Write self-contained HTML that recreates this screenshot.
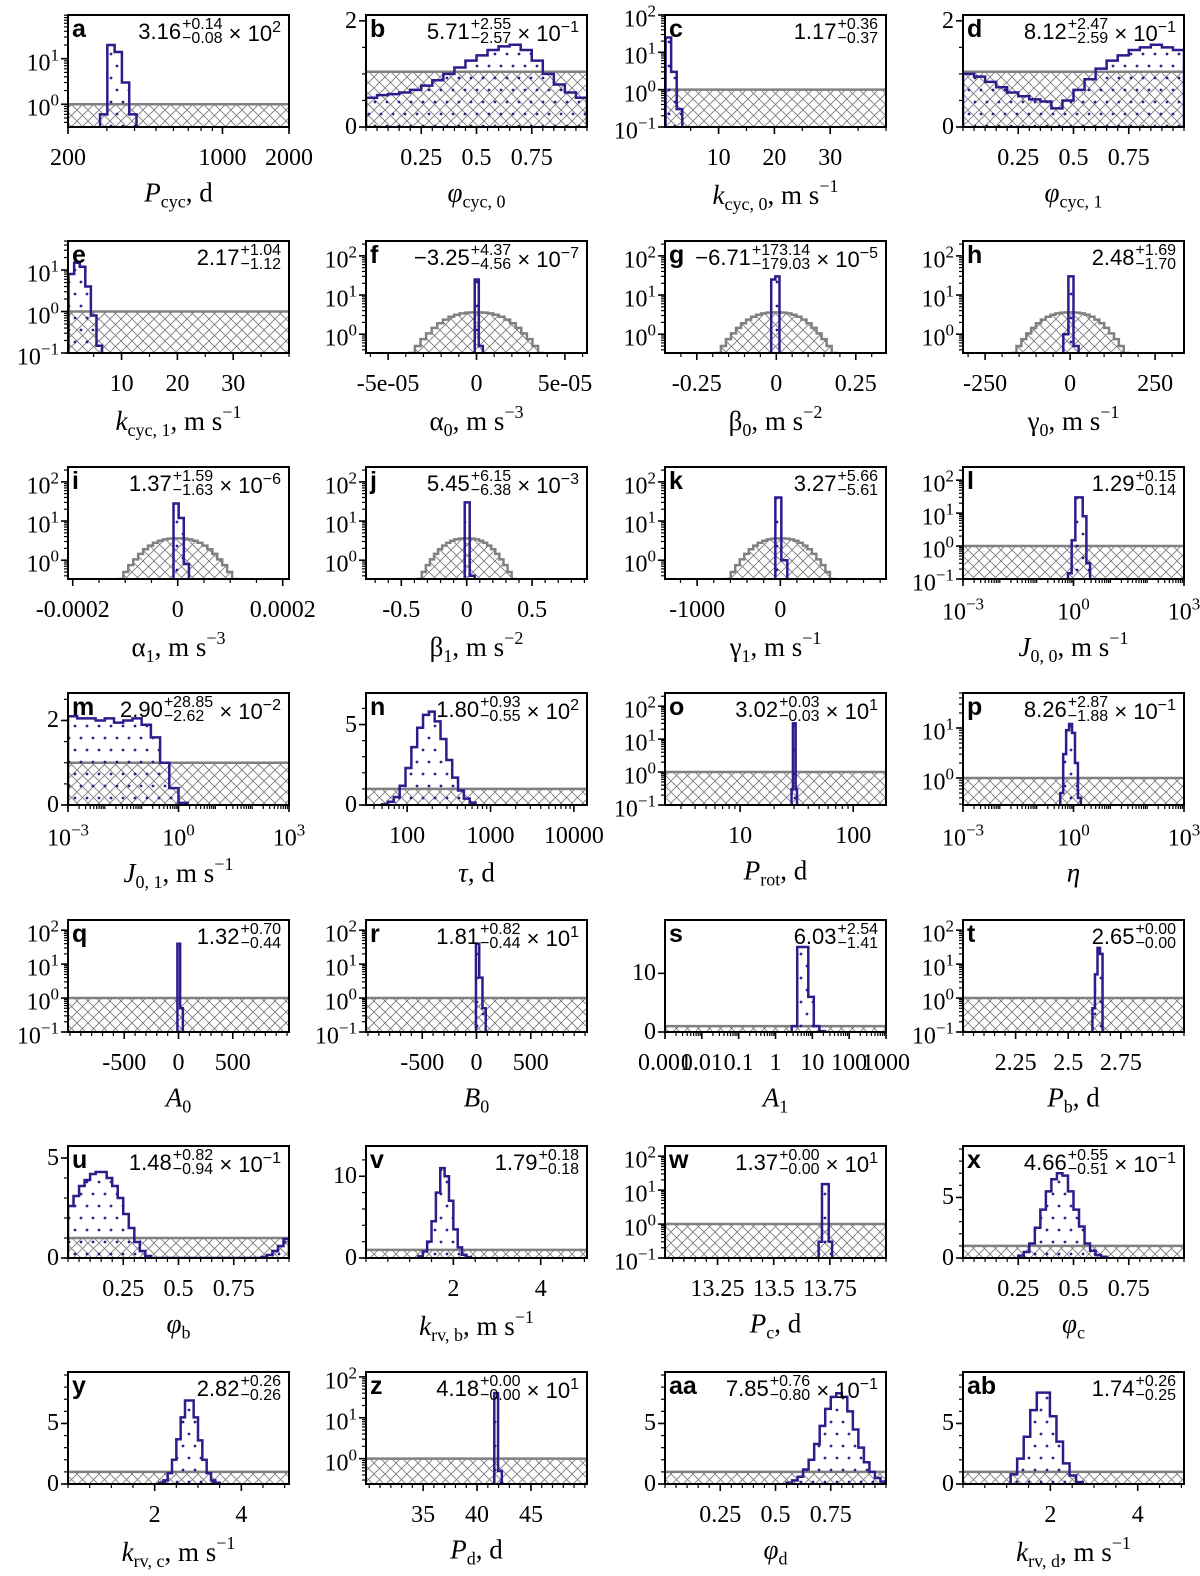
<!DOCTYPE html>
<html><head><meta charset="utf-8">
<style>
html,body{margin:0;padding:0;background:#fff;}
#wrap{position:relative;width:1200px;height:1576px;overflow:hidden;background:#fff;}
svg{position:absolute;left:0;top:0;}
.t{position:absolute;white-space:nowrap;font-family:"Liberation Serif",serif;color:#000;line-height:1;}
.tk{font-size:24px;}
.al{font-size:27px;}
.al sub{font-size:18px;vertical-align:-6px;}
.al sup{font-size:18px;vertical-align:12px;}
.tk sup{font-size:17px;vertical-align:10px;}
.let{font-family:"Liberation Sans",sans-serif;font-weight:bold;font-size:25px;}
.ann{font-family:"Liberation Sans",sans-serif;font-size:22px;display:flex;align-items:center;}
.ann .st{display:inline-flex;flex-direction:column;font-size:16px;line-height:14px;margin-left:1px;}
.ann .ex sup{font-size:16px;vertical-align:9px;}
</style></head>
<body>
<div id="wrap">
<svg id="fig" width="1200" height="1576">
<defs>
<pattern id="xh" patternUnits="userSpaceOnUse" width="11" height="11">
<path d="M0,0L11,11M0,11L11,0" stroke="#777" stroke-width="0.8"/>
</pattern>
<pattern id="dots" patternUnits="userSpaceOnUse" width="12" height="24">
<circle cx="3" cy="6" r="1.4" fill="#2a1d8c"/><circle cx="9" cy="18" r="1.4" fill="#2a1d8c"/>
</pattern>
</defs>
</svg>
</div>
<script>
// ---- data arrays (posterior histogram counts) ----
const gaussPrior=[0.33,0.5,0.75,1.05,1.45,1.9,2.35,2.8,3.15,3.4,3.55,3.6,3.6,3.55,3.4,3.15,2.8,2.35,1.9,1.45,1.05,0.75,0.5,0.33];
const postA=[0.6,20,14,3,0.6];
const postB=[0.55,0.6,0.62,0.65,0.7,0.78,0.88,1.0,1.12,1.25,1.35,1.45,1.52,1.55,1.45,1.25,1.0,0.8,0.65,0.55];
const postC=[25,3,0.3];
const postD=[1.0,0.95,0.85,0.75,0.65,0.58,0.52,0.48,0.35,0.5,0.7,0.9,1.1,1.25,1.35,1.45,1.5,1.55,1.5,1.45];
const postE=[8,15,12,4,0.8,0.15];
const postF=[25,0.5];
const postG=[25,30];
const postH=[1,30,0.5];
const postI=[28,12,0.8];
const postJ=[30,0.4];
const postK=[40,1];
const postL=[0.15,1.5,30,30,8,0.3];
const postM=[2.1,2.05,2.05,2.0,2.05,1.95,2.0,2.05,1.9,1.6,1.0,0.4,0.05];
const postN=[0.05,0.2,0.5,1.2,2.3,3.6,4.8,5.6,5.8,5.2,4.1,2.8,1.7,0.9,0.4,0.15];
const postO=[0.3,30,30,0.3];
const postP=[0.5,3,9,12,8,2,0.4];
const postQ=[40,0.5];
const postR=[40,4,0.5];
const postS=[1,14.5,14.5,6,1,0.15];
const postT=[0.5,5,30,20];
const postU=[2.6,3.1,3.6,3.9,4.2,4.3,4.3,4.0,3.6,3.0,2.2,1.5,0.8,0.35,0.1,0,0,0,0,0,0,0,0,0,0,0,0,0,0,0,0,0,0,0,0,0.05,0.15,0.35,0.6,0.95];
const postV=[0.2,0.8,2,4.5,8,11,10,7,3.5,1.3,0.4,0.1];
const postW=[0.3,15,15,0.3];
const postX=[0.2,0.5,1.2,2.5,4,5.5,6.5,7,6.8,5.5,4,2.6,1.2,0.6,0.25,0.1];
const postY=[0.1,0.3,0.9,2,3.7,5.5,6.9,6.9,5.5,3.6,2,0.9,0.3,0.1];
const postZ=[40,0.5];
const postAA=[0.1,0.3,0.6,1.2,2,3.3,4.8,6.2,7.2,7.5,7.2,6,4.5,3,1.8,1,0.5,0.2];
const postAB=[0.8,2.1,3.9,6.1,7.55,7.55,5.6,3.5,1.7,0.7,0.15];

const L10=Math.log10;
const phiT=[[0.25,'0.25'],[0.5,'0.5'],[0.75,'0.75']];
const logY=(a,b)=>{const r=[];for(let n=a;n<=b;n++)r.push([n,'10<sup>'+(n<0?'−'+(-n):n)+'</sup>']);return r;};
const flat={type:'flat',v:1};
const panels=[
{id:'a',c:0,r:0,xl:1,xd:[L10(200),L10(2000)],xt:[[L10(200),'200'],[L10(1000),'1000'],[L10(2000),'2000']],yl:1,yd:[-0.5,1.96],yt:logY(0,1),pr:flat,po:{s:2.446,w:0.033,c:postA},an:['3.16','+0.14','−0.08','2'],lab:'<i>P</i><sub>cyc</sub>, d'},
{id:'b',c:1,r:0,xd:[0,1],xt:phiT,xm:0.05,yd:[0,2.11],yt:[[0,'0'],[2,'2']],ym:0.5,pr:{type:'flat',v:1.04},po:{s:0,w:0.05,c:postB},an:['5.71','+2.55','−2.57','−1'],lab:'<i>φ</i><sub>cyc, 0</sub>'},
{id:'c',c:2,r:0,xd:[0.4,40],xt:[[10,'10'],[20,'20'],[30,'30']],xm:5,yl:1,yd:[-1,2],yt:logY(-1,2),pr:flat,po:{s:0.5,w:1,c:postC},an:['1.17','+0.36','−0.37',null],lab:'<i>k</i><sub>cyc, 0</sub>, m s<sup>−1</sup>'},
{id:'d',c:3,r:0,xd:[0,1],xt:phiT,xm:0.05,yd:[0,2.11],yt:[[0,'0'],[2,'2']],ym:0.5,pr:{type:'flat',v:1.04},po:{s:0,w:0.05,c:postD},an:['8.12','+2.47','−2.59','−1'],lab:'<i>φ</i><sub>cyc, 1</sub>'},
{id:'e',c:0,r:1,xd:[0.4,40],xt:[[10,'10'],[20,'20'],[30,'30']],xm:5,yl:1,yd:[-1,1.7],yt:logY(-1,1),pr:flat,po:{s:0.5,w:1,c:postE},an:['2.17','+1.04','−1.12',null],lab:'<i>k</i><sub>cyc, 1</sub>, m s<sup>−1</sup>'},
{id:'f',c:1,r:1,xd:[-6.25e-5,6.25e-5],xt:[[-5e-5,'-5e-05'],[0,'0'],[5e-5,'5e-05']],xm:1e-5,yl:1,yd:[-0.48,2.38],yt:logY(0,2),pr:{type:'gauss',ext:3.8e-5},po:{s:-1e-6,w:2.3e-6,c:postF},an:['−3.25','+4.37','−4.56','−7'],lab:'α<sub>0</sub>, m s<sup>−3</sup>'},
{id:'g',c:2,r:1,xd:[-0.35,0.345],xt:[[-0.25,'-0.25'],[0,'0'],[0.25,'0.25']],xm:0.05,yl:1,yd:[-0.48,2.38],yt:logY(0,2),pr:{type:'gauss',ext:0.19},po:{s:-0.016,w:0.013,c:postG},an:['−6.71','+173.14','−179.03','−5'],lab:'β<sub>0</sub>, m s<sup>−2</sup>'},
{id:'h',c:3,r:1,xd:[-315,335],xt:[[-250,'-250'],[0,'0'],[250,'250']],xm:50,yl:1,yd:[-0.48,2.38],yt:logY(0,2),pr:{type:'gauss',ext:172},po:{s:-20,w:15,c:postH},an:['2.48','+1.69','−1.70',null],lab:'γ<sub>0</sub>, m s<sup>−1</sup>'},
{id:'i',c:0,r:2,xd:[-2.09e-4,2.12e-4],xt:[[-2e-4,'-0.0002'],[0,'0'],[2e-4,'0.0002']],xm:5e-5,yl:1,yd:[-0.48,2.38],yt:logY(0,2),pr:{type:'gauss',ext:1.13e-4},po:{s:-8e-6,w:9.8e-6,c:postI},an:['1.37','+1.59','−1.63','−6'],lab:'α<sub>1</sub>, m s<sup>−3</sup>'},
{id:'j',c:1,r:2,xd:[-0.77,0.92],xt:[[-0.5,'-0.5'],[0,'0'],[0.5,'0.5']],xm:0.1,yl:1,yd:[-0.48,2.38],yt:logY(0,2),pr:{type:'gauss',ext:0.375},po:{s:-0.015,w:0.038,c:postJ},an:['5.45','+6.15','−6.38','−3'],lab:'β<sub>1</sub>, m s<sup>−2</sup>'},
{id:'k',c:2,r:2,xd:[-1386,1270],xt:[[-1000,'-1000'],[0,'0']],xm:200,yl:1,yd:[-0.48,2.38],yt:logY(0,2),pr:{type:'gauss',ext:650},po:{s:-60,w:72,c:postK},an:['3.27','+5.66','−5.61',null],lab:'γ<sub>1</sub>, m s<sup>−1</sup>'},
{id:'l',c:3,r:2,xl:1,xd:[-3,3],xt:logY(-3,3).filter(t=>t[0]%3==0),yl:1,yd:[-1,2.4],yt:logY(-1,2),pr:flat,po:{s:-0.15,w:0.1,c:postL},an:['1.29','+0.15','−0.14',null],lab:'<i>J</i><sub>0, 0</sub>, m s<sup>−1</sup>'},
{id:'m',c:0,r:3,xl:1,xd:[-3,3],xt:logY(-3,3).filter(t=>t[0]%3==0),yd:[0,2.65],yt:[[0,'0'],[2,'2']],ym:0.5,pr:flat,po:{s:-3,w:0.25,c:postM},an:['2.90','+28.85','−2.62','−2'],lab:'<i>J</i><sub>0, 1</sub>, m s<sup>−1</sup>'},
{id:'n',c:1,r:3,xl:1,xd:[1.506,4.157],xt:[[2,'100'],[3,'1000'],[4,'10000']],yd:[0,6.96],yt:[[0,'0'],[5,'5']],ym:1,pr:flat,po:{s:1.7,w:0.07,c:postN},an:['1.80','+0.93','−0.55','2'],lab:'<i>τ</i>, d'},
{id:'o',c:2,r:3,xl:1,xd:[0.336,2.29],xt:[[1,'10'],[2,'100']],yl:1,yd:[-1,2.4],yt:logY(-1,2),pr:flat,po:{s:1.455,w:0.012,c:postO},an:['3.02','+0.03','−0.03','1'],lab:'<i>P</i><sub>rot</sub>, d'},
{id:'p',c:3,r:3,xl:1,xd:[-3,3],xt:logY(-3,3).filter(t=>t[0]%3==0),yl:1,yd:[-0.54,1.7],yt:logY(0,1),pr:flat,po:{s:-0.36,w:0.08,c:postP},an:['8.26','+2.87','−1.88','−1'],lab:'<i>η</i>'},
{id:'q',c:0,r:4,xd:[-1018,1018],xt:[[-500,'-500'],[0,'0'],[500,'500']],xm:100,yl:1,yd:[-1,2.3],yt:logY(-1,2),pr:flat,po:{s:-10,w:25,c:postQ},an:['1.32','+0.70','−0.44',null],lab:'<i>A</i><sub>0</sub>'},
{id:'r',c:1,r:4,xd:[-1018,1018],xt:[[-500,'-500'],[0,'0'],[500,'500']],xm:100,yl:1,yd:[-1,2.3],yt:logY(-1,2),pr:flat,po:{s:-5,w:30,c:postR},an:['1.81','+0.82','−0.44','1'],lab:'<i>B</i><sub>0</sub>'},
{id:'s',c:2,r:4,xl:1,xd:[-3,3],xt:[[-3,'0.001'],[-2,'0.01'],[-1,'0.1'],[0,'1'],[1,'10'],[2,'100'],[3,'1000']],yd:[0,19.1],yt:[[0,'0'],[10,'10']],pr:flat,po:{s:0.44,w:0.15,c:postS},an:['6.03','+2.54','−1.41',null],lab:'<i>A</i><sub>1</sub>'},
{id:'t',c:3,r:4,xd:[2.0,3.05],xt:[[2.25,'2.25'],[2.5,'2.5'],[2.75,'2.75']],xm:0.05,yl:1,yd:[-1,2.3],yt:logY(-1,2),pr:flat,po:{s:2.615,w:0.012,c:postT},an:['2.65','+0.00','−0.00',null],lab:'<i>P</i><sub>b</sub>, d'},
{id:'u',c:0,r:5,xd:[0,1],xt:phiT,xm:0.05,yd:[0,5.6],yt:[[0,'0'],[5,'5']],ym:1,pr:flat,po:{s:0,w:0.025,c:postU},an:['1.48','+0.82','−0.94','−1'],lab:'<i>φ</i><sub>b</sub>'},
{id:'v',c:1,r:5,xd:[0,5.06],xt:[[2,'2'],[4,'4']],xm:0.5,yd:[0,13.7],yt:[[0,'0'],[10,'10']],ym:2,pr:flat,po:{s:1.2,w:0.1,c:postV},an:['1.79','+0.18','−0.18',null],lab:'<i>k</i><sub>rv, b</sub>, m s<sup>−1</sup>'},
{id:'w',c:2,r:5,xd:[13.016,14.0],xt:[[13.25,'13.25'],[13.5,'13.5'],[13.75,'13.75']],xm:0.05,yl:1,yd:[-1,2.3],yt:logY(-1,2),pr:flat,po:{s:13.7,w:0.015,c:postW},an:['1.37','+0.00','−0.00','1'],lab:'<i>P</i><sub>c</sub>, d'},
{id:'x',c:3,r:5,xd:[0,1],xt:phiT,xm:0.05,yd:[0,9.25],yt:[[0,'0'],[5,'5']],ym:1,pr:flat,po:{s:0.25,w:0.025,c:postX},an:['4.66','+0.55','−0.51','−1'],lab:'<i>φ</i><sub>c</sub>'},
{id:'y',c:0,r:6,xd:[0,5.1],xt:[[2,'2'],[4,'4']],xm:0.5,yd:[0,9.25],yt:[[0,'0'],[5,'5']],ym:1,pr:flat,po:{s:2.1,w:0.1,c:postY},an:['2.82','+0.26','−0.26',null],lab:'<i>k</i><sub>rv, c</sub>, m s<sup>−1</sup>'},
{id:'z',c:1,r:6,xd:[29.7,50.2],xt:[[35,'35'],[40,'40'],[45,'45']],xm:1,yl:1,yd:[-0.62,2.12],yt:logY(0,2),pr:flat,po:{s:41.6,w:0.35,c:postZ},an:['4.18','+0.00','−0.00','1'],lab:'<i>P</i><sub>d</sub>, d'},
{id:'aa',c:2,r:6,xd:[0,1],xt:phiT,xm:0.05,yd:[0,9.25],yt:[[0,'0'],[5,'5']],ym:1,pr:flat,po:{s:0.55,w:0.025,c:postAA},an:['7.85','+0.76','−0.80','−1'],lab:'<i>φ</i><sub>d</sub>'},
{id:'ab',c:3,r:6,xd:[0,5.06],xt:[[2,'2'],[4,'4']],xm:0.5,yd:[0,9.25],yt:[[0,'0'],[5,'5']],ym:1,pr:flat,po:{s:1.09,w:0.15,c:postAB},an:['1.74','+0.26','−0.25',null],lab:'<i>k</i><sub>rv, d</sub>, m s<sup>−1</sup>'}
];

const LEFTS=[68,366,665,963], TOPS=[15,241,467,693,920,1146,1372], W=221, H=112;
const NS='http://www.w3.org/2000/svg';
const svg=document.getElementById('fig');
const wrap=document.getElementById('wrap');
function mk(tag,attrs,parent){const e=document.createElementNS(NS,tag);for(const k in attrs)e.setAttribute(k,attrs[k]);(parent||svg).appendChild(e);return e;}
function txt(cls,html,x,y,tx){const d=document.createElement('div');d.className='t '+cls;d.innerHTML=html;d.style.left=x+'px';d.style.top=y+'px';d.style.transform=tx;wrap.appendChild(d);return d;}

panels.forEach(p=>{
  const L=LEFTS[p.c],T=TOPS[p.r],R=L+W,B=T+H;
  const xs=v=>L+(v-p.xd[0])/(p.xd[1]-p.xd[0])*W;
  const ys=v=>{let t;if(p.yl){if(v<=0)return B+5;t=L10(v);}else t=v;let y=B-(t-p.yd[0])/(p.yd[1]-p.yd[0])*H;return Math.max(T-5,Math.min(B+5,y));};
  const g=mk('g',{});
  
  
  const cp=mk('clipPath',{id:'cp'+p.id},g);
  mk('rect',{x:L,y:T,width:W,height:H},cp);
  const inner=mk('g',{'clip-path':'url(#cp'+p.id+')'},g);
  let pd;
  if(p.pr.type==='flat'){const y=ys(p.pr.v);pd=`M${L-3},${B+5}L${L-3},${y}L${R+3},${y}L${R+3},${B+5}Z`;}
  else{const n=gaussPrior.length,e=p.pr.ext,w=2*e/n;pd=`M${xs(-e)},${B+5}`;gaussPrior.forEach((v,i)=>{const y=ys(v);pd+=`L${xs(-e+i*w)},${y}L${xs(-e+(i+1)*w)},${y}`;});pd+=`L${xs(e)},${B+5}Z`;}
  const pr=mk('path',{d:pd,fill:'url(#xh)',stroke:'#808080','stroke-width':2.5},inner);
  
  
  const po=p.po;let d=`M${xs(po.s)},${B+5}`;
  po.c.forEach((v,i)=>{const y=ys(v);d+=`L${xs(po.s+i*po.w)},${y}L${xs(po.s+(i+1)*po.w)},${y}`;});
  d+=`L${xs(po.s+po.c.length*po.w)},${B+5}`;
  const pp=mk('path',{d:d,fill:'url(#dots)',stroke:'#2a1d8c','stroke-width':2.5,'stroke-linejoin':'miter'},inner);
  
  
  const fr=mk('rect',{x:L,y:T,width:W,height:H,fill:'none',stroke:'#000','stroke-width':2},g);
  
  
  const xmin=[];
  if(p.xl){for(let dd=Math.floor(p.xd[0]);dd<=Math.ceil(p.xd[1]);dd++)for(let k=1;k<=9;k++)xmin.push(dd+L10(k));}
  else if(p.xm){for(let v=Math.ceil(p.xd[0]/p.xm)*p.xm;v<=p.xd[1]+1e-12;v+=p.xm)xmin.push(v);}
  xmin.forEach(v=>{if(v<p.xd[0]-1e-9||v>p.xd[1]+1e-9)return;const x=xs(v);mk('line',{x1:x,y1:B,x2:x,y2:B+4,stroke:'#000','stroke-width':1.2},g);});
  p.xt.forEach(t=>{const x=xs(t[0]);mk('line',{x1:x,y1:B,x2:x,y2:B+7,stroke:'#000','stroke-width':1.6},g);
    const e=txt('tk',t[1],x,B+31,'translate(-50%,-50%)');
    
    });
  const ymin=[];
  if(p.yl){for(let dd=Math.floor(p.yd[0]);dd<=Math.ceil(p.yd[1]);dd++)for(let k=1;k<=9;k++)ymin.push(dd+L10(k));}
  else if(p.ym){for(let v=0;v<=p.yd[1]+1e-9;v+=p.ym)ymin.push(v);}
  ymin.forEach(v=>{if(v<p.yd[0]-1e-9||v>p.yd[1]+1e-9)return;const y=B-(v-p.yd[0])/(p.yd[1]-p.yd[0])*H;mk('line',{x1:L-4,y1:y,x2:L,y2:y,stroke:'#000','stroke-width':1.2},g);});
  p.yt.forEach(t=>{const y=B-(t[0]-p.yd[0])/(p.yd[1]-p.yd[0])*H;mk('line',{x1:L-7,y1:y,x2:L,y2:y,stroke:'#000','stroke-width':1.6},g);
    const e=txt('tk',t[1],L-9,y+(p.yl?2:0),'translate(-100%,-50%)');
    
    });
  const al=txt('al',p.lab,L+W/2,B+68,'translate(-50%,-50%)');
  
  
  const lt=txt('let',p.id,L+4,T+2,'none');
  
  
  const a=p.an;
  const an=txt('ann',`<span>${a[0]}</span><span class="st"><span>${a[1]}</span><span>${a[2]}</span></span>`+(a[3]!==null?`<span class="ex">&nbsp;× 10<sup>${a[3]}</sup></span>`:''),R-8,T+3,'translate(-100%,0)');
  
  
});
</script>
</body></html>
